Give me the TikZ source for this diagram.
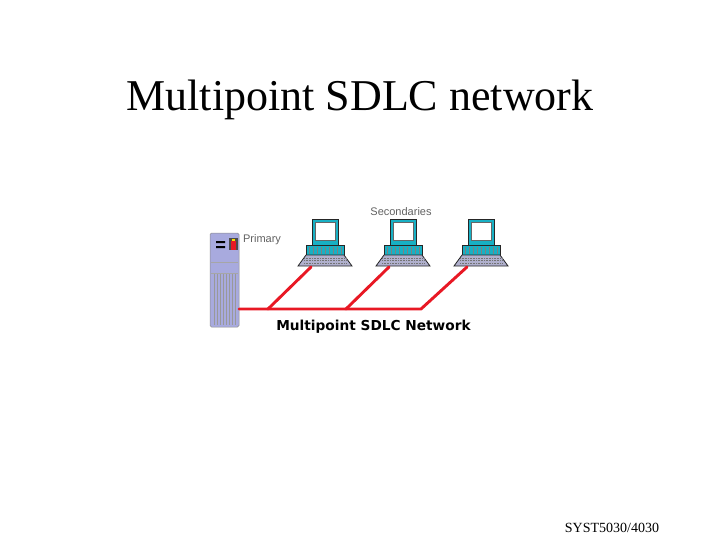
\documentclass[tikz,border=0pt]{standalone}
\usepackage{fontspec}
\setmainfont{Liberation Serif}
\setsansfont{Liberation Sans}
\newfontfamily\netfont{DejaVu Sans}
\definecolor{casing}{RGB}{168,170,222}
\definecolor{monitor}{RGB}{24,176,196}
\definecolor{keys}{RGB}{176,176,205}
\definecolor{link}{RGB}{232,24,36}
\tikzset{
  pics/terminal/.style={code={
    % monitor
    \draw[fill=monitor,draw=black!85,line width=.8pt] (-13,-48) rectangle (13,-22);
    \draw[fill=white,draw=black!60,line width=.4pt] (-10,-45) rectangle (10,-27);
    % base
    \draw[fill=monitor,draw=black!85,line width=.8pt] (-19,-22) rectangle (19,-12);
    \foreach \x in {-16,-12,-8,-4,0,4,8,12,16}
      \draw[black!50,line width=.3pt] (\x,-20) -- (\x,-13);
    % keyboard
    \draw[fill=keys,draw=black!85,line width=.8pt] (-19,-12) -- (19,-12) -- (27,-1) -- (-27,-1) -- cycle;
    \foreach \y in {-9,-6.5,-4}
      \draw[black!55,line width=.6pt,dash pattern=on 1pt off .6pt] (-21,\y) -- (21,\y);
    \coordinate (-foot) at (-14,0);
  }},
  wire/.style={draw=link,line width=2.9pt,line cap=round,line join=round},
  smalllabel/.style={font=\sffamily\fontsize{11}{12}\selectfont,text=black!62,inner sep=0pt},
  netlabel/.style={font=\netfont\bfseries\fontsize{13.7}{16}\selectfont,inner sep=0pt}
}
\begin{document}
\begin{tikzpicture}[x=1pt,y=-1pt]
  \useasboundingbox (0,0) rectangle (720,540);
  \node[inner sep=0pt,font=\fontsize{44}{48}\selectfont] (title) at (360,100) {Multipoint SDLC network};
  \node[inner sep=0pt,font=\fontsize{14}{16}\selectfont] (footer) at (612,528) {SYST5030/4030};

  % server
  \draw[fill=casing,draw=black!45,rounded corners=1.5pt,line width=.5pt] (210,233) rectangle (239,327);
  \draw[draw=black!35,line width=.4pt] (211,262) -- (238,262) (211,273) -- (238,273);
  \foreach \x in {214,217,220,223,226,229,232,235}
    \draw[black!40,line width=.35pt] (\x,274) -- (\x,325);
  \fill[black] (216,241) rectangle (225,243) (216,246) rectangle (225,248);
  \fill[black!70] (229,238) rectangle (238,250);
  \fill[link] (231,241) rectangle (236,250);
  \fill[yellow!80!orange] (232,238.5) rectangle (235,241);
  \coordinate (server) at (239,309);
  \node[smalllabel] (primary) at (262,240) {Primary};

  % terminals
  \pic (pca) at (325,267) {terminal};
  \pic (pcb) at (403,267) {terminal};
  \pic (pcc) at (481,267) {terminal};
  \node[smalllabel] (secondaries) at (401,212) {Secondaries};

  % links
  \coordinate (ja) at (268,309);
  \coordinate (jb) at (346,309);
  \coordinate (jc) at (421,309);
  \draw[wire] (server) -- (ja) -- (jb) -- (jc) -- (pcc-foot);
  \draw[wire] (ja) -- (pca-foot);
  \draw[wire] (jb) -- (pcb-foot);

  \node[netlabel] (network) at (373.5,327) {Multipoint SDLC Network};
\end{tikzpicture}
\end{document}
